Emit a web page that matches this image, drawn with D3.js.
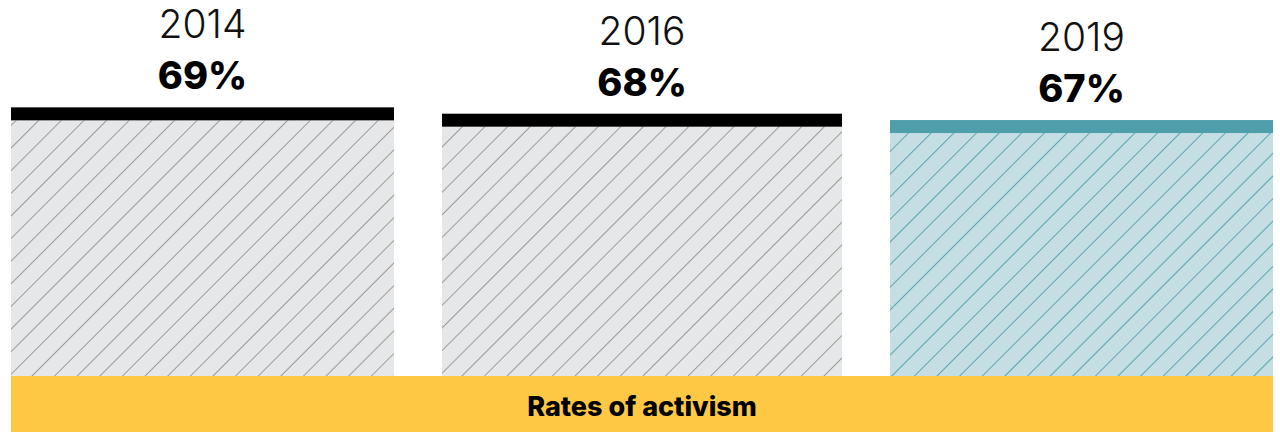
<!DOCTYPE html>
<html>
<head>
<meta charset="utf-8">
<script src="https://cdn.jsdelivr.net/npm/d3@7"></script>
<style>
  html, body { margin: 0; padding: 0; background: #ffffff; }
  svg { display: block; }
  text { font-family: "Inter", "Noto Sans", sans-serif; }
</style>
</head>
<body>
<svg id="chart" width="1280" height="432"></svg>
<script>
// Survey years and the share of respondents reporting activism
const years = ["2014", "2016", "2019"];
const rates = [69, 68, 67];
const highlightYears = ["2019"];
const footerLabel = "Rates of activism";

const W = 1280, H = 432;
const svg = d3.select("#chart");

// Column boxes (left/right edges) for each year
const x = d3.scaleOrdinal()
  .domain(years)
  .range([[11, 394], [442, 842], [890, 1273]]);

// Vertical value scale; bars start at zero below the footer band
const y = d3.scaleLinear().domain([0, 100]).range([545.5, -89.5]);

const capH = 13;
const palette = {
  base: { cap: "#000000", fill: "#e6e7e8", hatch: "#9b9b9b" },
  hi:   { cap: "#4f9eac", fill: "#c5dee3", hatch: "#5ba5b2" }
};

// Diagonal hatch patterns
const defs = svg.append("defs");
Object.entries(palette).forEach(([key, c]) => {
  const p = defs.append("pattern")
    .attr("id", "hatch-" + key)
    .attr("patternUnits", "userSpaceOnUse")
    .attr("width", 16).attr("height", 16)
    .attr("patternTransform", "rotate(45)");
  p.append("rect").attr("width", 16).attr("height", 16).attr("fill", c.fill);
  p.append("line")
    .attr("x1", 0.5).attr("y1", 0).attr("x2", 0.5).attr("y2", 16)
    .attr("stroke", c.hatch).attr("stroke-width", 1);
});

const data = years.map((yr, i) => ({
  year: yr,
  value: rates[i],
  key: highlightYears.includes(yr) ? "hi" : "base"
}));

const g = svg.selectAll("g.bar").data(data).join("g").attr("class", "bar");

// Hatched body
g.append("rect")
  .attr("x", d => x(d.year)[0])
  .attr("width", d => x(d.year)[1] - x(d.year)[0])
  .attr("y", d => y(d.value) + capH)
  .attr("height", d => y(0) - y(d.value) - capH)
  .attr("fill", d => `url(#hatch-${d.key})`);

// Solid cap marking the value
g.append("rect")
  .attr("x", d => x(d.year)[0])
  .attr("width", d => x(d.year)[1] - x(d.year)[0])
  .attr("y", d => y(d.value))
  .attr("height", capH)
  .attr("fill", d => palette[d.key].cap);

// Year label
g.append("text")
  .attr("x", d => (x(d.year)[0] + x(d.year)[1]) / 2)
  .attr("y", d => y(d.value) - 69)
  .attr("text-anchor", "middle")
  .attr("font-size", 39)
  .attr("font-weight", 300)
  .attr("fill", "#111")
  .text(d => d.year);

// Value label
g.append("text")
  .attr("x", d => (x(d.year)[0] + x(d.year)[1]) / 2)
  .attr("y", d => y(d.value) - 18)
  .attr("text-anchor", "middle")
  .attr("font-size", 38)
  .attr("font-weight", 800)
  .attr("fill", "#000")
  .text(d => d.value + "%");

// Footer band
const left = x(years[0])[0], right = x(years[years.length - 1])[1];
svg.append("rect")
  .attr("x", left).attr("y", 376)
  .attr("width", right - left).attr("height", H - 376)
  .attr("fill", "#fec844");

svg.append("text")
  .attr("x", (left + right) / 2)
  .attr("y", 416)
  .attr("text-anchor", "middle")
  .attr("font-size", 27)
  .attr("font-weight", 800)
  .attr("fill", "#000")
  .text(footerLabel);
</script>
</body>
</html>
